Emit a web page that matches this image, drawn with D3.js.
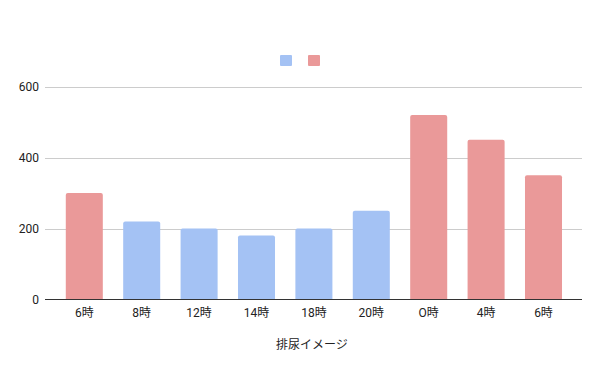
<!DOCTYPE html>
<html>
<head>
<meta charset="utf-8">
<script src="https://cdn.jsdelivr.net/npm/d3@7"></script>
<style>
  body { margin: 0; background: #fff; }
  text { font-family: Roboto, "Noto Sans CJK JP", sans-serif; }
</style>
</head>
<body>
<div id="chart"></div>
<script>
// categorias (eixo X)
const categories = ["6時", "8時", "12時", "14時", "18時", "20時", "O時", "4時", "6時"];
// série azul e série vermelha (null = sem barra)
const blueValues = [null, 220, 200, 180, 200, 250, null, null, null];
const redValues = [300, null, null, null, null, null, 520, 450, 350];
const yTicks = [0, 200, 400, 600];
const xTitle = "排尿イメージ";

const width = 600, height = 371;
const blue = "#a4c2f4", red = "#ea9999";

const svg = d3.select("#chart")
    .append("svg")
    .attr("width", width)
    .attr("height", height);

// Escalas
const x = d3.scaleBand()
    .domain(d3.range(categories.length))
    .range([55.6, 572.2])
    .paddingInner(0.355)
    .paddingOuter(0.1775);

const y = d3.scaleLinear()
    .domain([0, 600])
    .range([299.5, 86.5]);

// Linhas de grade
const gridLeft = 45, gridRight = 582;
svg.append("g")
    .selectAll("line")
    .data(yTicks.filter(d => d > 0))
    .enter()
    .append("line")
    .attr("x1", gridLeft)
    .attr("x2", gridRight)
    .attr("y1", d => Math.round(y(d)) + 0.5)
    .attr("y2", d => Math.round(y(d)) + 0.5)
    .attr("stroke", "#cccccc")
    .attr("stroke-width", 1);

// Labels do eixo Y
svg.append("g")
    .selectAll("text")
    .data(yTicks)
    .enter()
    .append("text")
    .attr("x", 39)
    .attr("y", d => y(d))
    .attr("dy", "0.35em")
    .attr("text-anchor", "end")
    .attr("font-size", 12)
    .attr("fill", "#222")
    .text(d => d);

// Barras
const bars = [];
categories.forEach((c, i) => {
    if (blueValues[i] != null) bars.push({ i: i, v: blueValues[i], color: blue });
    if (redValues[i] != null) bars.push({ i: i, v: redValues[i], color: red });
});

svg.append("g")
    .selectAll("path")
    .data(bars)
    .enter()
    .append("path")
    .attr("d", d => {
        const x0 = x(d.i), x1 = x(d.i) + x.bandwidth();
        const y0 = y(0), y1 = y(d.v);
        const r = 2;
        return `M${x0},${y0}V${y1 + r}Q${x0},${y1} ${x0 + r},${y1}H${x1 - r}Q${x1},${y1} ${x1},${y1 + r}V${y0}Z`;
    })
    .attr("fill", d => d.color);

// Linha base
svg.append("line")
    .attr("x1", gridLeft)
    .attr("x2", gridRight)
    .attr("y1", 299.5)
    .attr("y2", 299.5)
    .attr("stroke", "#333")
    .attr("stroke-width", 1);

// Labels do eixo X
svg.append("g")
    .selectAll("text")
    .data(categories)
    .enter()
    .append("text")
    .attr("x", (d, i) => x(i) + x.bandwidth() / 2)
    .attr("y", 313)
    .attr("dy", "0.35em")
    .attr("text-anchor", "middle")
    .attr("font-size", 12)
    .attr("fill", "#222")
    .text(d => d);

// Título do eixo X
svg.append("text")
    .attr("x", 312)
    .attr("y", 345)
    .attr("dy", "0.35em")
    .attr("text-anchor", "middle")
    .attr("font-size", 12)
    .attr("fill", "#222")
    .text(xTitle);

// Legenda (apenas quadrados)
const legend = svg.append("g");
[blue, red].forEach((c, k) => {
    legend.append("rect")
        .attr("x", 280 + k * 28)
        .attr("y", 55)
        .attr("width", 12)
        .attr("height", 11)
        .attr("rx", 1)
        .attr("fill", c);
});
</script>
</body>
</html>
